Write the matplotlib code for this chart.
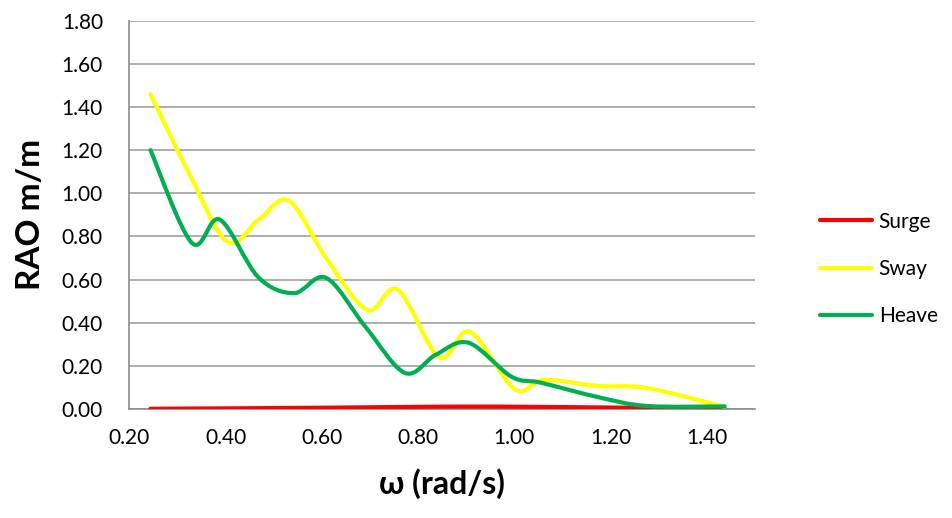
import numpy as np
import matplotlib
matplotlib.use("Agg")
import matplotlib.pyplot as plt
from matplotlib.path import Path
from matplotlib.patches import PathPatch
from matplotlib.lines import Line2D

plt.rcParams["font.family"] = ["Lato", "DejaVu Sans"]

# Data (omega in rad/s, RAO in m/m)
surge_w = [0.244, 0.40, 0.60, 0.80, 0.92, 1.04, 1.24, 1.437]
surge = [0.001, 0.003, 0.006, 0.010, 0.011, 0.010, 0.006, 0.002]

sway_w = [0.244, 0.327, 0.404, 0.470, 0.532, 0.609, 0.694, 0.758, 0.844, 0.908,
          1.001, 1.061, 1.173, 1.276, 1.437]
sway = [1.46, 1.08, 0.775, 0.88, 0.965, 0.70, 0.46, 0.553, 0.24, 0.358,
        0.092, 0.135, 0.107, 0.097, 0.010]

heave_w = [0.244, 0.330, 0.388, 0.468, 0.542, 0.609, 0.691, 0.773, 0.837, 0.905,
           0.994, 1.055, 1.178, 1.276, 1.437]
heave = [1.20, 0.77, 0.878, 0.611, 0.537, 0.608, 0.38, 0.167, 0.252, 0.307,
         0.15, 0.122, 0.053, 0.014, 0.012]

x_ticks = [0.2, 0.4, 0.6, 0.8, 1.0, 1.2, 1.4]
y_ticks = [0.0, 0.2, 0.4, 0.6, 0.8, 1.0, 1.2, 1.4, 1.6, 1.8]


def smooth_path(xs, ys):
    # Excel-style smoothed line: cubic Bezier through every point
    p = np.column_stack([xs, ys])
    ext = np.vstack([p[0], p, p[-1]])
    verts = [p[0]]
    codes = [Path.MOVETO]
    for i in range(len(p) - 1):
        p0, p1, p2, p3 = ext[i], ext[i + 1], ext[i + 2], ext[i + 3]
        verts += [p1 + (p2 - p0) / 6, p2 - (p3 - p1) / 6, p2]
        codes += [Path.CURVE4] * 3
    return Path(verts, codes)


fig = plt.figure(figsize=(9.52, 5.18), dpi=100)
ax = fig.add_axes([0.1358, 0.2104, 0.6573, 0.7496])

series = [("Surge", surge_w, surge, "#FF0000"),
          ("Sway", sway_w, sway, "#FFFF00"),
          ("Heave", heave_w, heave, "#00B050")]

handles = []
for name, xs, ys, col in series:
    ax.add_patch(PathPatch(smooth_path(xs, ys), facecolor="none", edgecolor=col,
                           lw=3, capstyle="round", joinstyle="round", zorder=3))
    handles.append(Line2D([], [], color=col, lw=3, solid_capstyle="round", label=name))

ax.set_xlim(0.2, 1.5)
ax.set_ylim(0, 1.8)
ax.set_xticks(x_ticks)
ax.set_yticks(y_ticks)
ax.set_xticklabels([f"{v:.2f}" for v in x_ticks])
ax.set_yticklabels([f"{v:.2f}" for v in y_ticks])
ax.tick_params(length=0, labelsize=15, colors="#000000")
ax.tick_params(axis="y", pad=19)
ax.tick_params(axis="x", pad=14)

ax.grid(axis="y", color="#A0A0A0", lw=1.2)
ax.set_axisbelow(True)
for s in ["top", "right"]:
    ax.spines[s].set_visible(False)
for s in ["left", "bottom"]:
    ax.spines[s].set_color("#8C8C8C")
    ax.spines[s].set_linewidth(1.2)

ax.set_xlabel("ω (rad/s)", fontsize=23, fontweight="bold", labelpad=14)
ax.set_ylabel("RAO m/m", fontsize=24, fontweight="bold", labelpad=12)

fig.legend(handles=handles, loc="center left", bbox_to_anchor=(0.842, 0.481),
           frameon=False, fontsize=15, handlelength=2.5, handletextpad=0.3,
           labelspacing=1.3)

fig.savefig("out.png", dpi=100)
